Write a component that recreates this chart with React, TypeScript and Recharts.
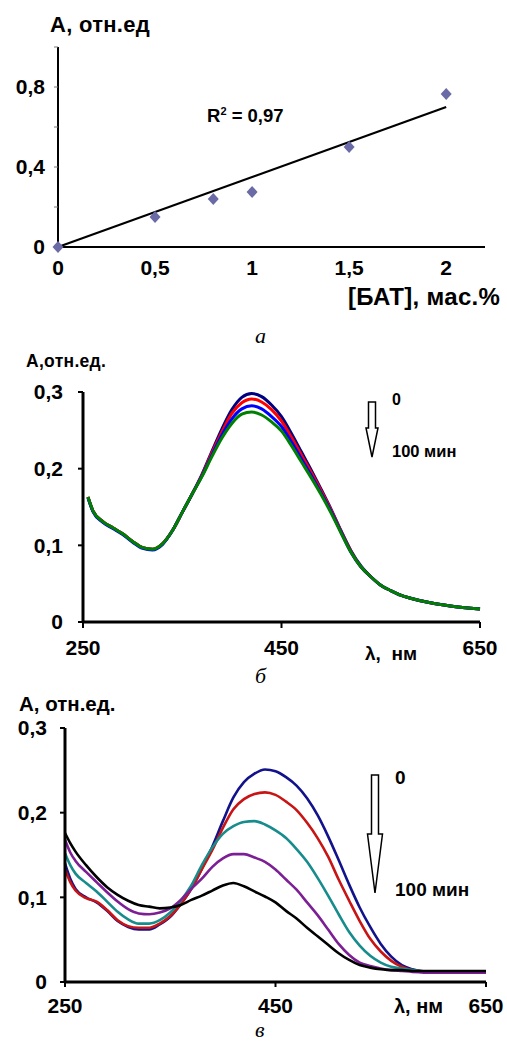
import React from "react";
import {
  ComposedChart,
  LineChart,
  Line,
  Scatter,
  XAxis,
  YAxis,
} from "recharts";

const FONT = "'Liberation Sans', Arial, sans-serif";

// panel а: absorbance vs [БАТ]
const batConc = [0, 0.5, 0.8, 1.0, 1.5, 2.0];
const batAbs = [0, 0.15, 0.24, 0.275, 0.5, 0.765];
const trendConc = [0, 2];
const trendAbs = [0, 0.7];
const aXTicks = [0, 0.5, 1, 1.5, 2];
const aYTicks = [0, 0.2, 0.4, 0.6, 0.8, 1];
const aYLabelled = [0, 0.4, 0.8];

// panel б: spectra, 0..100 min
const wlB = [255, 260, 270, 280, 290, 300, 310, 320, 330, 340, 350, 360, 370, 380, 390, 400, 410, 420, 430, 440, 450, 460, 470, 480, 490, 500, 510, 520, 530, 540, 550, 560, 570, 580, 600, 620, 650];
const bNavy = [0.163, 0.145, 0.131, 0.123, 0.115, 0.105, 0.097, 0.095, 0.102, 0.119, 0.143, 0.167, 0.193, 0.223, 0.252, 0.277, 0.293, 0.298, 0.294, 0.283, 0.268, 0.246, 0.222, 0.198, 0.173, 0.147, 0.119, 0.093, 0.073, 0.059, 0.048, 0.041, 0.035, 0.031, 0.025, 0.021, 0.017];
const bRed = [0.163, 0.145, 0.131, 0.123, 0.115, 0.105, 0.097, 0.095, 0.102, 0.119, 0.143, 0.167, 0.192, 0.221, 0.248, 0.272, 0.286, 0.291, 0.287, 0.277, 0.262, 0.241, 0.218, 0.195, 0.171, 0.146, 0.118, 0.092, 0.072, 0.059, 0.048, 0.041, 0.035, 0.031, 0.025, 0.021, 0.017];
const bBlue = [0.162, 0.144, 0.130, 0.122, 0.114, 0.104, 0.096, 0.094, 0.101, 0.119, 0.143, 0.167, 0.191, 0.218, 0.244, 0.265, 0.278, 0.282, 0.278, 0.268, 0.255, 0.235, 0.213, 0.191, 0.168, 0.144, 0.117, 0.091, 0.072, 0.059, 0.048, 0.041, 0.035, 0.031, 0.025, 0.021, 0.017];
const bGreen = [0.163, 0.145, 0.131, 0.123, 0.115, 0.105, 0.097, 0.095, 0.102, 0.119, 0.143, 0.167, 0.190, 0.216, 0.240, 0.259, 0.271, 0.274, 0.270, 0.261, 0.249, 0.230, 0.209, 0.188, 0.166, 0.142, 0.116, 0.091, 0.072, 0.059, 0.048, 0.041, 0.035, 0.031, 0.025, 0.021, 0.017];

// panel в: spectra, 0..100 min
const wlC = [250, 255, 260, 270, 280, 290, 300, 310, 320, 330, 340, 350, 360, 370, 380, 390, 400, 410, 420, 430, 440, 450, 460, 470, 480, 490, 500, 510, 520, 530, 540, 550, 560, 570, 580, 600, 620, 650];
const cNavy = [0.140, 0.122, 0.110, 0.100, 0.094, 0.084, 0.072, 0.065, 0.062, 0.062, 0.068, 0.077, 0.092, 0.110, 0.134, 0.160, 0.190, 0.218, 0.236, 0.246, 0.251, 0.249, 0.242, 0.232, 0.217, 0.197, 0.172, 0.144, 0.115, 0.088, 0.065, 0.045, 0.030, 0.020, 0.015, 0.011, 0.011, 0.011];
const cRed = [0.133, 0.118, 0.108, 0.099, 0.095, 0.085, 0.073, 0.066, 0.064, 0.064, 0.069, 0.078, 0.092, 0.110, 0.133, 0.156, 0.182, 0.204, 0.216, 0.222, 0.224, 0.221, 0.213, 0.203, 0.188, 0.170, 0.148, 0.121, 0.096, 0.072, 0.051, 0.036, 0.025, 0.018, 0.014, 0.012, 0.012, 0.012];
const cTeal = [0.152, 0.138, 0.128, 0.117, 0.107, 0.095, 0.083, 0.074, 0.069, 0.069, 0.073, 0.082, 0.096, 0.114, 0.138, 0.159, 0.175, 0.184, 0.189, 0.190, 0.186, 0.179, 0.170, 0.157, 0.142, 0.123, 0.102, 0.080, 0.059, 0.043, 0.031, 0.023, 0.018, 0.016, 0.014, 0.012, 0.012, 0.012];
const cPurple = [0.168, 0.153, 0.143, 0.130, 0.118, 0.106, 0.095, 0.086, 0.081, 0.080, 0.082, 0.087, 0.097, 0.110, 0.122, 0.136, 0.146, 0.151, 0.151, 0.147, 0.142, 0.133, 0.121, 0.109, 0.094, 0.079, 0.062, 0.045, 0.032, 0.023, 0.019, 0.016, 0.014, 0.013, 0.012, 0.011, 0.011, 0.011];
const cBlack = [0.176, 0.164, 0.154, 0.138, 0.124, 0.112, 0.103, 0.096, 0.091, 0.089, 0.087, 0.088, 0.091, 0.097, 0.102, 0.108, 0.114, 0.117, 0.113, 0.107, 0.101, 0.094, 0.084, 0.075, 0.064, 0.054, 0.044, 0.034, 0.026, 0.020, 0.017, 0.015, 0.014, 0.014, 0.013, 0.013, 0.013, 0.013];

const specXTicks = [250, 450, 650];
const specYTicks = [0, 0.1, 0.2, 0.3];

const pointsA = batConc.map((x, i) => ({ x, y: batAbs[i] }));
const trendA = trendConc.map((x, i) => ({ x, y: trendAbs[i] }));
const dataB = wlB.map((wl, i) => ({ wl, navy: bNavy[i], red: bRed[i], blue: bBlue[i], green: bGreen[i] }));
const dataC = wlC.map((wl, i) => ({ wl, navy: cNavy[i], red: cRed[i], teal: cTeal[i], purple: cPurple[i], black: cBlack[i] }));

const comma = (v: number) => String(v).replace(".", ",");

function Txt({ x, cy, fs, children, italic, ls }: { x: number; cy: number; fs: number; children: React.ReactNode; italic?: boolean; ls?: number }) {
  return (
    <div
      style={{
        position: "absolute",
        left: x,
        top: cy - fs * 0.49,
        fontSize: fs,
        lineHeight: `${fs}px`,
        letterSpacing: ls || 0,
        fontFamily: italic ? "'Liberation Serif', 'Times New Roman', serif" : FONT,
        fontWeight: italic ? 400 : 700,
        fontStyle: italic ? "italic" : "normal",
        whiteSpace: "pre",
        color: "#000",
      }}
    >
      {children}
    </div>
  );
}

function Arrow({ x, top, shaftEnd, bottom, shaftW, headW }: { x: number; top: number; shaftEnd: number; bottom: number; shaftW: number; headW: number }) {
  const s = shaftW / 2;
  const h = headW / 2;
  return (
    <svg style={{ position: "absolute", left: 0, top: 0, overflow: "visible" }} width={1} height={1}>
      <polygon
        points={`${x - s},${top} ${x + s},${top} ${x + s},${shaftEnd} ${x + h},${shaftEnd} ${x},${bottom} ${x - h},${shaftEnd} ${x - s},${shaftEnd}`}
        fill="#fff"
        stroke="#000"
        strokeWidth={1.5}
      />
    </svg>
  );
}

const Diamond = (props: any) => {
  const { cx, cy } = props;
  return <polygon points={`${cx},${cy - 6} ${cx + 5.5},${cy} ${cx},${cy + 6} ${cx - 5.5},${cy}`} fill="#6a6aa6" />;
};

const tickA = { fontSize: 21, fontWeight: 700, fill: "#000", fontFamily: FONT };
const tickSpec = { fontSize: 21, fontWeight: 700, fill: "#000", fontFamily: FONT };

export default function App() {
  return (
    <div style={{ position: "absolute", left: 0, top: 0, width: 507, height: 1041, background: "#fff", overflow: "hidden" }}>
      {/* а */}
      <div style={{ position: "absolute", left: 0, top: 0 }}>
        <ComposedChart width={507} height={320} margin={{ top: 47, right: 22, left: 0, bottom: 0 }}>
          <XAxis
            dataKey="x"
            type="number"
            domain={[0, 2.2]}
            ticks={aXTicks}
            tickFormatter={comma}
            tick={tickA}
            tickLine={false}
            tickSize={0}
            tickMargin={13}
            height={73}
            axisLine={{ stroke: "#000", strokeWidth: 2 }}
          />
          <YAxis
            type="number"
            domain={[0, 1]}
            ticks={aYTicks}
            tickFormatter={(v: number) => (aYLabelled.includes(v) ? comma(v) : "")}
            tick={tickA}
            tickSize={4}
            tickMargin={9}
            width={58}
            axisLine={{ stroke: "#000", strokeWidth: 2 }}
            tickLine={{ stroke: "#777", strokeWidth: 1 }}
          />
          <Line data={trendA} dataKey="y" type="linear" stroke="#000" strokeWidth={2.2} dot={false} isAnimationActive={false} />
          <Scatter data={pointsA} dataKey="y" shape={Diamond} isAnimationActive={false} />
        </ComposedChart>
      </div>
      <Txt x={50} cy={25} fs={22} ls={0.3}>А, отн.ед</Txt>
      <Txt x={207} cy={116} fs={18.5}>
        R<sup style={{ fontSize: 11, verticalAlign: 0, position: "relative", top: -7 }}>2</sup> = 0,97
      </Txt>
      <Txt x={348} cy={297} fs={24} ls={0.3}>[БАТ], мас.%</Txt>
      <Txt x={255} cy={336} fs={22} italic>а</Txt>

      {/* б */}
      <div style={{ position: "absolute", left: 0, top: 340 }}>
        <LineChart data={dataB} width={507} height={320} margin={{ top: 52, right: 27, left: 0, bottom: 0 }}>
          <XAxis
            dataKey="wl"
            type="number"
            domain={[250, 650]}
            ticks={specXTicks}
            tick={tickSpec}
            tickSize={6}
            tickMargin={12}
            height={38}
            axisLine={{ stroke: "#000", strokeWidth: 3 }}
            tickLine={{ stroke: "#000", strokeWidth: 2 }}
          />
          <YAxis
            type="number"
            domain={[0, 0.3]}
            ticks={specYTicks}
            tickFormatter={comma}
            tick={tickSpec}
            tickSize={5}
            tickMargin={15}
            width={83}
            axisLine={{ stroke: "#000", strokeWidth: 3 }}
            tickLine={{ stroke: "#000", strokeWidth: 2 }}
          />
          <Line dataKey="navy" type="monotone" stroke="#000080" strokeWidth={3} dot={false} isAnimationActive={false} />
          <Line dataKey="red" type="monotone" stroke="#ff0000" strokeWidth={3} dot={false} isAnimationActive={false} />
          <Line dataKey="blue" type="monotone" stroke="#0000ff" strokeWidth={3} dot={false} isAnimationActive={false} />
          <Line dataKey="green" type="monotone" stroke="#008000" strokeWidth={3} dot={false} isAnimationActive={false} />
        </LineChart>
      </div>
      <Txt x={26} cy={362} fs={17.5} ls={0.3}>А,отн.ед.</Txt>
      <Arrow x={372} top={402} shaftEnd={428} bottom={457} shaftW={7} headW={12} />
      <Txt x={392} cy={400} fs={16}>0</Txt>
      <Txt x={392} cy={451} fs={16.5}>100 мин</Txt>
      <Txt x={365} cy={653} fs={19}>λ,  нм</Txt>
      <Txt x={255} cy={676} fs={22} italic>б</Txt>

      {/* в */}
      <div style={{ position: "absolute", left: 0, top: 680 }}>
        <LineChart data={dataC} width={507} height={340} margin={{ top: 48, right: 21, left: 0, bottom: 0 }}>
          <XAxis
            dataKey="wl"
            type="number"
            domain={[250, 650]}
            ticks={specXTicks}
            tick={tickSpec}
            tickSize={5}
            tickMargin={11}
            height={38}
            axisLine={{ stroke: "#000", strokeWidth: 3 }}
            tickLine={{ stroke: "#000", strokeWidth: 2 }}
          />
          <YAxis
            type="number"
            domain={[0, 0.3]}
            ticks={specYTicks}
            tickFormatter={comma}
            tick={tickSpec}
            tickSize={5}
            tickMargin={13}
            width={65}
            axisLine={{ stroke: "#000", strokeWidth: 3 }}
            tickLine={{ stroke: "#000", strokeWidth: 2 }}
          />
          <Line dataKey="navy" type="monotone" stroke="#12128c" strokeWidth={2.6} dot={false} isAnimationActive={false} />
          <Line dataKey="red" type="monotone" stroke="#c81414" strokeWidth={2.6} dot={false} isAnimationActive={false} />
          <Line dataKey="teal" type="monotone" stroke="#178c8c" strokeWidth={2.6} dot={false} isAnimationActive={false} />
          <Line dataKey="purple" type="monotone" stroke="#7d1f94" strokeWidth={2.6} dot={false} isAnimationActive={false} />
          <Line dataKey="black" type="monotone" stroke="#000" strokeWidth={2.6} dot={false} isAnimationActive={false} />
        </LineChart>
      </div>
      <Txt x={19} cy={704} fs={20.5}>А, отн.ед.</Txt>
      <Arrow x={375} top={775} shaftEnd={834} bottom={893} shaftW={7} headW={15} />
      <Txt x={395} cy={777} fs={19}>0</Txt>
      <Txt x={395} cy={889} fs={19}>100 мин</Txt>
      <Txt x={394} cy={1006} fs={20}>λ, нм</Txt>
      <Txt x={255} cy={1030} fs={22} italic>в</Txt>
    </div>
  );
}
